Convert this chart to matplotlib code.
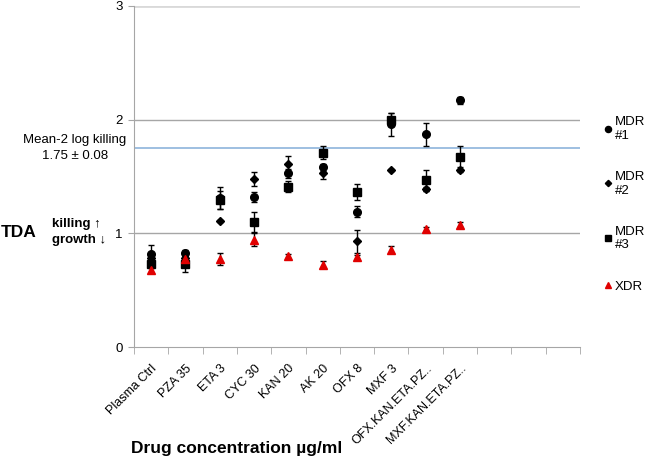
import numpy as np
import matplotlib
matplotlib.use("Agg")
import matplotlib.pyplot as plt
from matplotlib.lines import Line2D

plt.rcParams['font.family'] = ['Liberation Sans', 'DejaVu Sans']

# categories (last three are empty slots on the axis)
drugs = ['Plasma Ctrl', 'PZA 35', 'ETA 3', 'CYC 30', 'KAN 20', 'AK 20', 'OFX 8', 'MXF 3',
         'OFX.KAN.ETA.PZ..', 'MXF.KAN.ETA.PZ..', '', '', '']

# mean TDA per strain and its error
mdr1 = [0.82, 0.83, 1.31, 1.32, 1.53, 1.58, 1.19, 1.96, 1.87, 2.17]
mdr1_err = [0.075, 0.02, 0.10, 0.04, 0.04, 0.03, 0.05, 0.10, 0.10, 0.03]
mdr2 = [0.78, 0.78, 1.11, 1.48, 1.61, 1.53, 0.93, 1.56, 1.39, 1.56]
mdr2_err = [0.02, 0.02, 0.01, 0.06, 0.07, 0.05, 0.10, 0.01, 0.02, 0.02]
mdr3 = [0.73, 0.73, 1.29, 1.10, 1.41, 1.71, 1.36, 2.00, 1.465, 1.67]
mdr3_err = [0.03, 0.07, 0.08, 0.09, 0.05, 0.06, 0.07, 0.06, 0.095, 0.10]
xdr = [0.675, 0.77, 0.775, 0.945, 0.80, 0.725, 0.79, 0.855, 1.04, 1.077]
xdr_err = [0.02, 0.03, 0.05, 0.055, 0.02, 0.03, 0.02, 0.03, 0.02, 0.02]

mean_kill = 1.75

fig = plt.figure(figsize=(6.5, 4.69), dpi=100)
ax = fig.add_axes([134 / 650, 1 - 347 / 469, 446 / 650, 341 / 469])

x = np.arange(len(mdr1))
series = [
    ('MDR\n#1', mdr1, mdr1_err, 'o', 'black', 5.5),
    ('MDR\n#2', mdr2, mdr2_err, 'D', 'black', 4),
    ('MDR\n#3', mdr3, mdr3_err, 's', 'black', 5.5),
    ('XDR', xdr, xdr_err, '^', '#e00000', 5.5),
]
handles = []
for name, vals, err, mk, col, ms in series:
    ax.errorbar(x, vals, yerr=err, fmt=mk, color=col, ms=ms, ecolor='black',
                elinewidth=1, capsize=2.5, capthick=1, zorder=3)
    handles.append(Line2D([], [], ls='none', marker=mk, color=col, ms=ms * 0.8, label=name))

ax.axhline(mean_kill, color='#8eb4dc', lw=1.2, zorder=2)
for yv in [1, 2]:
    ax.axhline(yv, color='#a6a6a6', lw=1, zorder=1)
ax.axhline(3, color='#d9d9d9', lw=2, zorder=1)

ax.set_xlim(-0.5, len(drugs) - 0.5)
ax.set_ylim(0, 3)
ax.set_yticks([0, 1, 2, 3])
ax.tick_params(axis='y', length=4, color='#a6a6a6', labelsize=9.5, pad=4)
ax.set_xticks(np.arange(len(drugs)))
ax.set_xticklabels(drugs, rotation=45, ha='right', rotation_mode='anchor', fontsize=9)
ax.set_xticks(np.arange(len(drugs) + 1) - 0.5, minor=True)
ax.tick_params(axis='x', which='major', length=0, pad=11)
ax.tick_params(axis='x', which='minor', length=5, color='#a6a6a6')
for s in ['top', 'right']:
    ax.spines[s].set_visible(False)
for s in ['left', 'bottom']:
    ax.spines[s].set_color('#a6a6a6')

fig.text(75 / 650, 1 - 140 / 469, 'Mean-2 log killing', ha='center', va='center', fontsize=9.5)
fig.text(75 / 650, 1 - 156 / 469, '1.75 ± 0.08', ha='center', va='center', fontsize=9.5)
fig.text(1 / 650, 1 - 232 / 469, 'TDA', ha='left', va='center', fontsize=12.5, fontweight='bold')
fig.text(52 / 650, 1 - 224 / 469, 'killing ↑', ha='left', va='center', fontsize=9.5,
         fontweight='bold')
fig.text(52 / 650, 1 - 240 / 469, 'growth ↓', ha='left', va='center', fontsize=9.5,
         fontweight='bold')
fig.text(131 / 650, 1 - 448 / 469, 'Drug concentration µg/ml', ha='left', va='center',
         fontsize=12.5, fontweight='bold')

fig.legend(handles=handles, loc='upper left', bbox_to_anchor=(592 / 650, 1 - 104 / 469),
           frameon=False, fontsize=9.5, handlelength=0.6, handletextpad=0.25,
           labelspacing=2.2)

fig.savefig('out.png', dpi=100)
